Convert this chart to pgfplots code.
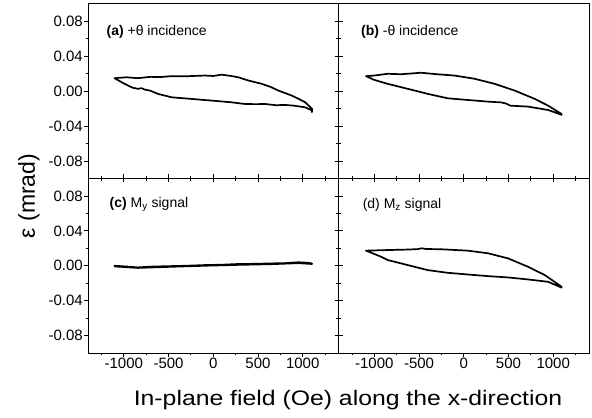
\documentclass[border=0pt]{standalone}
\usepackage{fontspec}
\setmainfont{Liberation Sans}
\usepackage{graphicx}
\usepackage{pgfplots}
\pgfplotsset{compat=1.18}
\pgfplotsset{
  panel/.style={
    scale only axis, width=250.5bp, height=174.5bp,
    xmin=-1400, xmax=1400, ymin=-0.1, ymax=0.1,
    tick align=outside,
    xtick={-1000,-500,0,500,1000},
    ytick={-0.08,-0.04,0,0.04,0.08},
    minor xtick={-1250,-750,-250,250,750,1250},
    minor ytick={-0.06,-0.02,0.02,0.06},
    major tick length=4bp, minor tick length=2.5bp,
    every tick/.style={black, line width=0.8bp},
    axis line style={line width=1bp},
    tick label style={font=\fontsize{15bp}{17bp}\selectfont},
    /pgf/number format/assume math mode=true,
    /pgf/number format/set thousands separator={},
    yticklabel style={/pgf/number format/fixed, /pgf/number format/fixed zerofill, /pgf/number format/precision=2, inner sep=1bp},
    xticklabel style={inner sep=1bp},
    scaled y ticks=false,
  },
}
\tikzset{lab/.style={anchor=west, inner sep=0pt, font=\fontsize{14bp}{16bp}\selectfont},
  loopline/.style={black, line width=1.7bp, line join=round, line cap=round, mark=none}}
\begin{document}
\begin{tikzpicture}
\useasboundingbox (0,0) rectangle (592bp,418bp);
% (a) top left
\begin{axis}[panel, at={(88bp,239.5bp)}, anchor=south west,
  xtick pos=left, ytick pos=both, yticklabel pos=left, xticklabels={}]
\addplot[loopline] coordinates {(-1104,0.015) (-970,0.016) (-842,0.015) (-700,0.0165) (-600,0.0162) (-468,0.0173) (-300,0.0172) (-94,0.018) (0,0.0175) (93,0.019) (200,0.0175) (280,0.016) (392,0.0123) (542,0.0085) (640,0.005) (728,0.0008) (878,-0.005) (960,-0.009) (1028,-0.0127) (1103,-0.020) (1103,-0.024)
 (1103,-0.022) (1028,-0.0184) (900,-0.0165) (803,-0.0157) (700,-0.016) (579,-0.0146) (480,-0.0148) (355,-0.0146) (205,-0.0127) (-19,-0.0107) (-244,-0.0088) (-468,-0.0069) (-618,-0.003) (-700,0.0005) (-767,0.002) (-800,0.0035) (-842,0.0028) (-900,0.004) (-992,0.0085) (-1104,0.015)};
\node[lab] at (axis cs:-1194,0.0677) {\textbf{(a)} +θ incidence};
\end{axis}
% (b) top right
\begin{axis}[panel, at={(338.5bp,239.5bp)}, anchor=south west,
  xtick pos=left, ytick pos=left, xticklabels={}, yticklabels={}]
\addplot[loopline] coordinates {(-1093,0.0173) (-1000,0.018) (-851,0.020) (-700,0.0195) (-477,0.0212) (-300,0.0195) (-103,0.018) (121,0.0143) (345,0.0085) (569,0.0008) (794,-0.0088) (943,-0.0165) (1093,-0.026)
 (1093,-0.027) (943,-0.0215) (719,-0.0176) (520,-0.0165) (470,-0.0140) (420,-0.0128) (270,-0.0119) (46,-0.0100) (-178,-0.0081) (-403,-0.003) (-627,0.0028) (-851,0.0085) (-1000,0.013) (-1093,0.0173)};
\node[lab] at (axis cs:-1149,0.0677) {\textbf{(b)} -θ incidence};
\end{axis}
% (c) bottom left
\begin{axis}[panel, at={(88bp,65bp)}, anchor=south west,
  xtick pos=both, xticklabel pos=left, ytick pos=both, yticklabel pos=left]
\addplot[loopline] coordinates {(-1104,0.000) (-950,-0.001) (-842,-0.0019) (-700,-0.001) (-468,-0.0004) (-300,0) (-94,0.0008) (100,0.0012) (280,0.002) (450,0.0022) (653,0.0027) (800,0.003) (952,0.004) (1040,0.0035) (1103,0.0027)
 (1103,0.002) (952,0.003) (653,0.0018) (280,0.001) (-94,0) (-468,-0.0012) (-842,-0.0025) (-1104,-0.0008)};
\node[lab] at (axis cs:-1160,0.070) {\textbf{(c)} M\textsubscript{y} signal};
\end{axis}
% (d) bottom right
\begin{axis}[panel, at={(338.5bp,65bp)}, anchor=south west,
  xtick pos=both, xticklabel pos=left, ytick pos=left, yticklabels={}]
\addplot[loopline] coordinates {(-1093,0.0173) (-851,0.018) (-650,0.0185) (-520,0.0190) (-470,0.0200) (-420,0.0192) (-253,0.0189) (46,0.0173) (270,0.0143) (494,0.0085) (719,-0.0012) (906,-0.0107) (1093,-0.024)
 (1093,-0.025) (943,-0.0184) (719,-0.0157) (494,-0.0134) (270,-0.0119) (46,-0.0100) (-178,-0.0081) (-403,-0.005) (-627,0.0008) (-851,0.0066) (-925,0.0104) (-1093,0.0173)};
\node[lab] at (axis cs:-1131,0.070) {(d) M\textsubscript{z} signal};
\end{axis}
\node at (348bp,18bp) {\scalebox{1.18}[1]{\fontsize{21bp}{24bp}\selectfont In-plane field (Oe) along the x-direction}};
\node[rotate=90] at (29bp,222bp) {\fontsize{23bp}{26bp}\selectfont ε (mrad)};
\end{tikzpicture}
\end{document}
